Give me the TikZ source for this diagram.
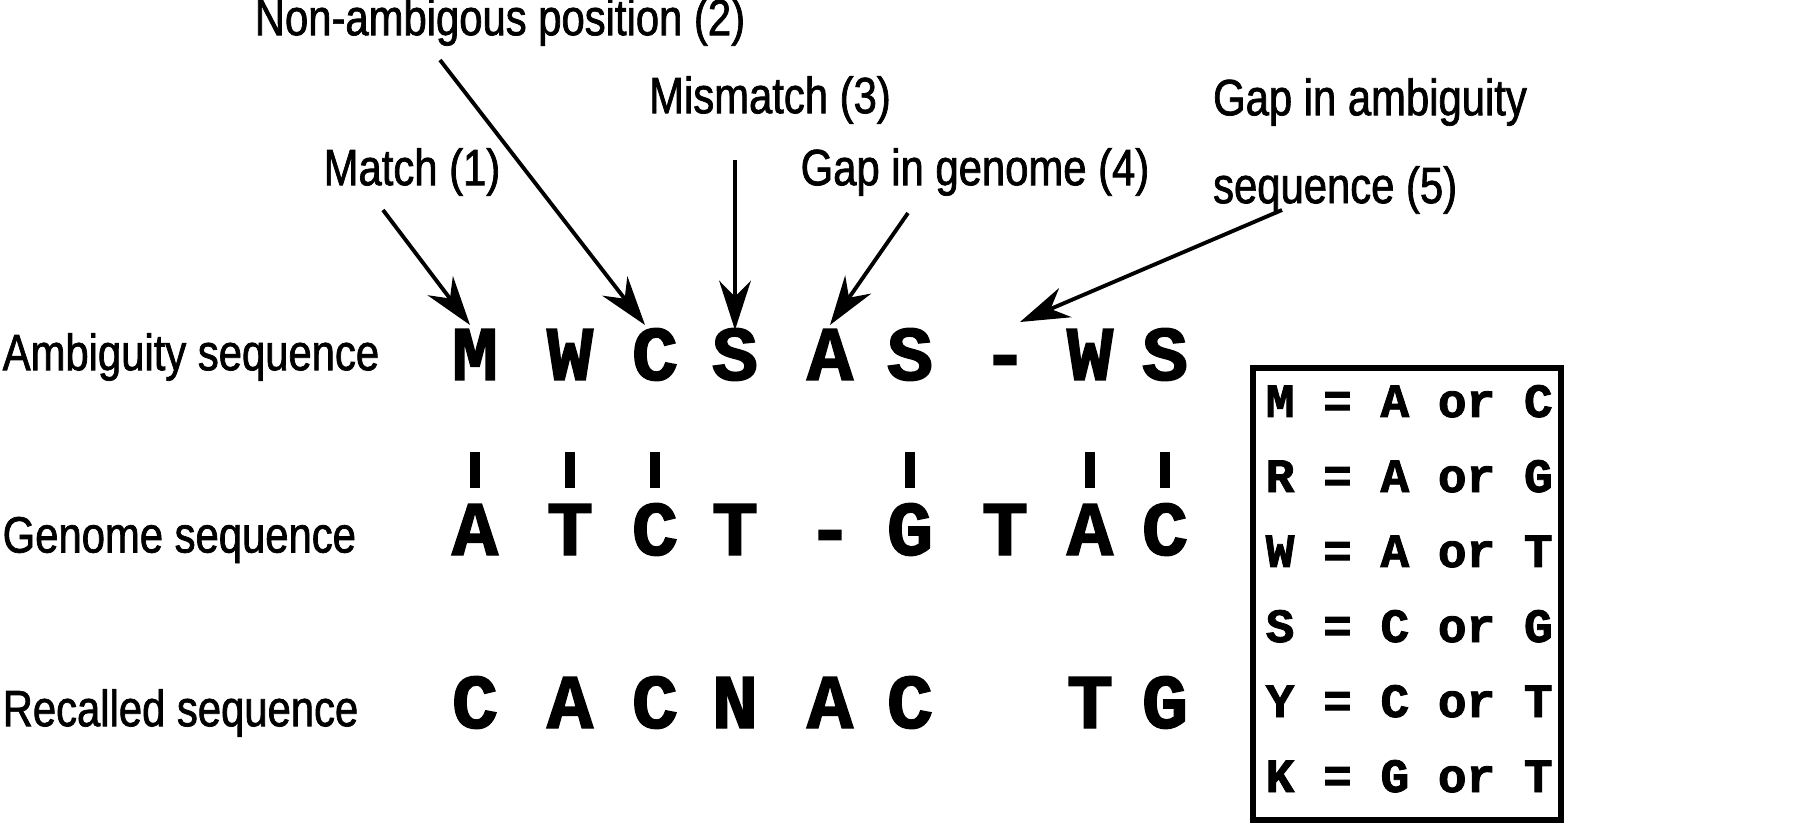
\documentclass[tikz,border=0pt]{standalone}
\usepackage{fontspec}
\setmainfont{Liberation Sans}[FakeStretch=0.82,FakeBold=1.4]
\newfontfamily\seqf{Liberation Mono}[FakeBold=1.8]
\usetikzlibrary{arrows.meta}
\begin{document}
\begin{tikzpicture}[x=0.01cm,y=-0.01cm,
 lab/.style={font=\fontsize{14.5}{17}\selectfont, inner sep=0},
 sq/.style={font=\fontsize{22}{22}\seqf\bfseries, inner sep=0, anchor=base},
 bar/.style={line width=2.8pt},
 arr/.style={line width=1.1pt,-{Stealth[length=14pt,width=9pt]}},
 key/.style={font=\fontsize{13.6}{16}\seqf\bfseries, inner sep=0, anchor=base}]
\useasboundingbox (0,0) rectangle (1800,840);
% row labels
\node[lab,anchor=west] (la) at (2,357) {Ambiguity sequence};
\node[lab,anchor=west] (lg) at (2,540) {Genome sequence};
\node[lab,anchor=west] (lr) at (2,713) {Recalled sequence};
% sequences
\foreach \x/\a/\g/\r [count=\i] in {475/M/A/C,570/W/T/A,655/C/C/C,735/S/T/N,830/A/-/A,910/S/G/C,1005/-/T/{},1090/W/A/T,1165/S/C/G}{
  \node[sq] (a\i) at (\x,380) {\a};
  \node[sq] (g\i) at (\x,555) {\g};
  \node[sq] (r\i) at (\x,728) {\r};
}
\foreach \x [count=\i] in {475,570,655,910,1090,1165}
  \draw[bar] (\x,452) -- (\x,488);
% top labels
\node[lab] (t2) at (500,22) {Non-ambigous position (2)};
\node[lab] (t3) at (770,100) {Mismatch (3)};
\node[lab] (t1) at (412,172) {Match (1)};
\node[lab] (t4) at (975,172) {Gap in genome (4)};
\node[lab,align=left] (t5) at (1370,146) {Gap in ambiguity\\[8pt]sequence (5)};
\coordinate (e1) at (470,325);
\coordinate (e2) at (645,325);
\coordinate (e3) at (735,330);
\coordinate (e4) at (830,325);
\coordinate (e5) at (1020,322);
\coordinate (s1) at (383,210);
\coordinate (s2) at (440,60);
\coordinate (s3) at (735,160);
\coordinate (s4) at (908,213);
\coordinate (s5) at (1282,210);
\foreach \i in {1,...,5} \draw[arr] (s\i) -- (e\i);
% key
\coordinate (b1) at (1253,368);
\coordinate (b2) at (1561,820);
\draw[line width=1.5pt] (b1) rectangle (b2);
\foreach \t [count=\i] in {M = A or C,R = A or G,W = A or T,S = C or G,Y = C or T,K = G or T}
  \node[key,anchor=base west] (k\i) at (1265,{405+75*(\i-1)+12}) {\t};
\end{tikzpicture}
\end{document}
